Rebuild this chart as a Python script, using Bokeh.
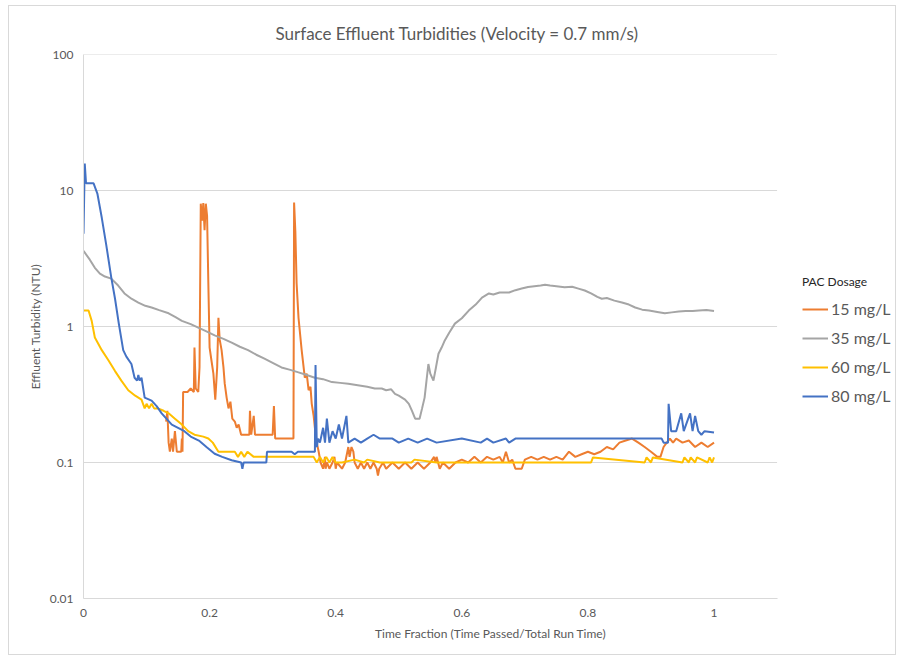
from bokeh.plotting import figure
from bokeh.models import (FixedTicker, CustomJSTickFormatter, Legend, LegendItem, Range1d)
from bokeh.embed import file_html
from bokeh.resources import INLINE

# ---------------- data ----------------
series_names = ["15 mg/L", "35 mg/L", "60 mg/L", "80 mg/L"]
series_colors = ["#ED7D31", "#A5A5A5", "#FFC000", "#4472C4"]

x_ticks = [0, 0.2, 0.4, 0.6, 0.8, 1.0]
y_ticks = [0.01, 0.1, 1, 10, 100]
x_axis_end = 1.1

# 15 mg/L
x15 = [0.131, 0.133, 0.135, 0.137, 0.140, 0.142, 0.145, 0.148, 0.152, 0.155, 0.156, 0.157,
       0.158, 0.165, 0.170, 0.175, 0.176, 0.178, 0.182, 0.184, 0.186, 0.188, 0.190, 0.192,
       0.194, 0.196, 0.198, 0.200, 0.203, 0.206, 0.209, 0.212, 0.214, 0.216, 0.219, 0.222,
       0.224, 0.227, 0.230, 0.233, 0.236, 0.240, 0.243, 0.246, 0.250, 0.263, 0.264, 0.266,
       0.270, 0.272, 0.285, 0.300, 0.302, 0.304, 0.320, 0.333, 0.334, 0.336, 0.338, 0.341,
       0.346, 0.351, 0.354, 0.357, 0.360, 0.362, 0.365, 0.367, 0.370, 0.373, 0.376, 0.380,
       0.383, 0.384, 0.386, 0.390, 0.395, 0.398, 0.400, 0.402, 0.410, 0.415, 0.420, 0.422,
       0.425, 0.428, 0.430, 0.435, 0.440, 0.445, 0.450, 0.455, 0.460, 0.465, 0.467, 0.469,
       0.475, 0.480, 0.490, 0.500, 0.510, 0.520, 0.530, 0.540, 0.550, 0.556, 0.558, 0.560,
       0.565, 0.570, 0.580, 0.590, 0.600, 0.610, 0.620, 0.630, 0.640, 0.650, 0.660, 0.665,
       0.670, 0.675, 0.680, 0.685, 0.695, 0.700, 0.710, 0.720, 0.730, 0.740, 0.750, 0.760,
       0.770, 0.780, 0.790, 0.800, 0.810, 0.820, 0.830, 0.840, 0.850, 0.860, 0.870, 0.880,
       0.890, 0.900, 0.905, 0.910, 0.915, 0.920, 0.925, 0.930, 0.935, 0.940, 0.950, 0.960,
       0.970, 0.980, 0.990, 1.000]
y15 = [0.20, 0.24, 0.14, 0.12, 0.15, 0.12, 0.17, 0.12, 0.12, 0.12, 0.15, 0.12,
       0.33, 0.33, 0.35, 0.33, 0.70, 0.35, 0.33, 0.50, 8.0, 6.0, 8.1, 5.1,
       8.0, 6.5, 2.07, 0.70, 0.56, 0.45, 0.29, 0.50, 1.16, 0.80, 0.67, 0.50,
       0.38, 0.30, 0.25, 0.28, 0.21, 0.20, 0.18, 0.19, 0.16, 0.16, 0.24, 0.16,
       0.22, 0.16, 0.16, 0.16, 0.26, 0.15, 0.15, 0.15, 8.15, 5.0, 2.07, 1.16,
       0.67, 0.42, 0.45, 0.34, 0.36, 0.27, 0.22, 0.18, 0.14, 0.12, 0.10, 0.09,
       0.11, 0.09, 0.10, 0.09, 0.10, 0.11, 0.09, 0.10, 0.09, 0.10, 0.13, 0.11,
       0.13, 0.12, 0.10, 0.09, 0.10, 0.09, 0.10, 0.09, 0.10, 0.09, 0.08, 0.09,
       0.10, 0.09, 0.10, 0.09, 0.10, 0.09, 0.10, 0.09, 0.10, 0.11, 0.10, 0.11,
       0.09, 0.10, 0.09, 0.10, 0.105, 0.10, 0.11, 0.10, 0.11, 0.105, 0.11, 0.10,
       0.12, 0.10, 0.105, 0.09, 0.09, 0.105, 0.11, 0.105, 0.11, 0.105, 0.11, 0.105,
       0.12, 0.11, 0.115, 0.12, 0.115, 0.12, 0.13, 0.125, 0.14, 0.145, 0.15, 0.14,
       0.13, 0.12, 0.115, 0.11, 0.11, 0.13, 0.14, 0.15, 0.14, 0.15, 0.14, 0.145,
       0.13, 0.14, 0.13, 0.14]

# 35 mg/L
x35 = [0.000, 0.010, 0.018, 0.026, 0.034, 0.044, 0.055, 0.065, 0.076, 0.087, 0.098, 0.108,
       0.120, 0.135, 0.146, 0.156, 0.170, 0.182, 0.195, 0.208, 0.222, 0.235, 0.248, 0.261,
       0.274, 0.287, 0.300, 0.314, 0.328, 0.341, 0.354, 0.367, 0.380, 0.394, 0.407, 0.420,
       0.435, 0.450, 0.462, 0.473, 0.480, 0.488, 0.494, 0.500, 0.505, 0.510, 0.516, 0.521,
       0.526, 0.533, 0.537, 0.541, 0.544, 0.547, 0.550, 0.555, 0.559, 0.563, 0.568, 0.573,
       0.580, 0.589, 0.600, 0.611, 0.622, 0.632, 0.643, 0.650, 0.660, 0.675, 0.685, 0.695,
       0.705, 0.715, 0.725, 0.732, 0.740, 0.750, 0.763, 0.775, 0.785, 0.795, 0.805, 0.815,
       0.822, 0.830, 0.842, 0.854, 0.865, 0.875, 0.886, 0.897, 0.910, 0.922, 0.933, 0.944,
       0.955, 0.966, 0.976, 0.988, 1.000]
y35 = [3.6, 3.1, 2.7, 2.45, 2.33, 2.25, 2.0, 1.75, 1.6, 1.5, 1.42, 1.38,
       1.32, 1.25, 1.17, 1.10, 1.04, 0.98, 0.92, 0.86, 0.81, 0.76, 0.71, 0.67,
       0.62, 0.58, 0.54, 0.50, 0.48, 0.46, 0.44, 0.42, 0.41, 0.39, 0.385, 0.38,
       0.37, 0.36, 0.35, 0.35, 0.34, 0.345, 0.32, 0.31, 0.30, 0.29, 0.27, 0.24,
       0.21, 0.21, 0.25, 0.30, 0.40, 0.53, 0.45, 0.40, 0.50, 0.63, 0.70, 0.79,
       0.90, 1.05, 1.15, 1.31, 1.45, 1.63, 1.75, 1.72, 1.78, 1.78, 1.85, 1.90,
       1.95, 1.98, 2.0, 2.03, 2.0, 1.98, 1.94, 1.96, 1.90, 1.84, 1.75, 1.65,
       1.60, 1.62, 1.55, 1.50, 1.45, 1.38, 1.33, 1.31, 1.28, 1.25, 1.27, 1.29,
       1.30, 1.30, 1.31, 1.32, 1.30]

# 60 mg/L
x60 = [0.000, 0.008, 0.013, 0.018, 0.029, 0.040, 0.050, 0.060, 0.071, 0.082, 0.092, 0.097,
       0.100, 0.104, 0.108, 0.112, 0.118, 0.127, 0.135, 0.145, 0.156, 0.166, 0.176, 0.190,
       0.198, 0.205, 0.214, 0.240, 0.245, 0.250, 0.255, 0.260, 0.270, 0.300, 0.330, 0.365,
       0.370, 0.375, 0.380, 0.385, 0.390, 0.395, 0.400, 0.410, 0.430, 0.445, 0.450, 0.470,
       0.500, 0.520, 0.525, 0.560, 0.600, 0.640, 0.700, 0.750, 0.805, 0.808, 0.890, 0.893,
       0.900, 0.903, 0.950, 0.953, 0.960, 0.963, 0.970, 0.973, 0.990, 0.993, 0.997, 1.000]
y60 = [1.31, 1.31, 1.10, 0.83, 0.67, 0.56, 0.47, 0.40, 0.34, 0.31, 0.29, 0.25,
       0.27, 0.25, 0.27, 0.25, 0.25, 0.24, 0.23, 0.21, 0.19, 0.17, 0.16, 0.155,
       0.15, 0.14, 0.12, 0.12, 0.11, 0.12, 0.11, 0.12, 0.11, 0.11, 0.11, 0.11,
       0.10, 0.11, 0.10, 0.11, 0.10, 0.11, 0.10, 0.10, 0.105, 0.10, 0.105, 0.10,
       0.10, 0.10, 0.105, 0.10, 0.10, 0.10, 0.10, 0.10, 0.10, 0.109, 0.10, 0.109,
       0.10, 0.109, 0.10, 0.109, 0.10, 0.109, 0.10, 0.109, 0.10, 0.109, 0.10, 0.109]

# 80 mg/L
x80 = [0.000, 0.002, 0.004, 0.016, 0.022, 0.029, 0.036, 0.044, 0.050, 0.056, 0.063, 0.068,
       0.076, 0.081, 0.085, 0.087, 0.089, 0.092, 0.097, 0.108, 0.116, 0.124, 0.140, 0.150,
       0.160, 0.170, 0.183, 0.195, 0.208, 0.220, 0.235, 0.250, 0.252, 0.254, 0.290, 0.291,
       0.330, 0.335, 0.340, 0.367, 0.368, 0.370, 0.372, 0.375, 0.380, 0.383, 0.386, 0.390,
       0.395, 0.400, 0.405, 0.410, 0.417, 0.420, 0.430, 0.440, 0.450, 0.460, 0.470, 0.490,
       0.500, 0.515, 0.530, 0.545, 0.560, 0.600, 0.630, 0.640, 0.650, 0.670, 0.675, 0.685,
       0.690, 0.760, 0.850, 0.917, 0.920, 0.927, 0.928, 0.932, 0.940, 0.948, 0.952, 0.962,
       0.966, 0.970, 0.975, 0.980, 0.985, 1.000]
y80 = [4.8, 15.8, 11.3, 11.3, 9.5, 6.3, 4.0, 2.3, 1.6, 1.05, 0.67, 0.60,
       0.53, 0.42, 0.40, 0.44, 0.40, 0.42, 0.30, 0.285, 0.26, 0.23, 0.19, 0.18,
       0.17, 0.155, 0.145, 0.13, 0.116, 0.11, 0.104, 0.10, 0.09, 0.10, 0.10, 0.12,
       0.12, 0.115, 0.12, 0.12, 0.52, 0.13, 0.15, 0.14, 0.18, 0.14, 0.21, 0.14,
       0.17, 0.15, 0.19, 0.15, 0.22, 0.14, 0.15, 0.14, 0.15, 0.16, 0.15, 0.15,
       0.14, 0.15, 0.14, 0.15, 0.14, 0.15, 0.14, 0.15, 0.14, 0.15, 0.14, 0.15,
       0.15, 0.15, 0.15, 0.15, 0.14, 0.14, 0.27, 0.17, 0.17, 0.23, 0.17, 0.23,
       0.17, 0.22, 0.17, 0.16, 0.17, 0.166]

xs_all = [x15, x35, x60, x80]
ys_all = [y15, y35, y60, y80]

# ---------------- figure ----------------
FONT = "Lato"
TXT = "#595959"
GRID = "#D9D9D9"

# frame spans to the right edge so the legend (drawn in the frame) is not clipped;
# the axis line and grid lines stop at x = 1.1 like the original
p = figure(width=888, height=650, y_axis_type="log",
           x_range=Range1d(0, 1.291), y_range=Range1d(0.01, 100),
           output_backend="svg", toolbar_location=None,
           min_border_left=74, min_border_right=0, min_border_bottom=58, min_border_top=48,
           background_fill_color="white", border_fill_color="white")
p.styles = {"border": "1px solid #D9D9D9", "margin-left": "8px", "margin-top": "5px"}
p.outline_line_color = None

p.title.text = "Surface Effluent Turbidities (Velocity = 0.7 mm/s)"
p.title.align = "left"
p.title.offset = 192
p.title.standoff = 21
p.title.text_font = FONT
p.title.text_font_size = "17px"
p.title.text_font_style = "normal"
p.title.text_color = TXT

# horizontal grid lines (only across the axis extent)
p.segment(x0=[0] * len(y_ticks), y0=y_ticks, x1=[x_axis_end] * len(y_ticks), y1=y_ticks,
          line_color=GRID, line_width=1)

renderers = []
for xs, ys, c in zip(xs_all, ys_all, series_colors):
    r = p.line(xs, ys, line_color=c, line_width=2)
    renderers.append(r)

# axes
xa = p.xaxis[0]
xa.ticker = FixedTicker(ticks=x_ticks)
xa.formatter = CustomJSTickFormatter(code="return Number(tick.toFixed(1)).toString();")
xa.axis_label = "Time Fraction (Time Passed/Total Run Time)"
xa.bounds = (0, x_axis_end)
ya = p.yaxis[0]
ya.ticker = FixedTicker(ticks=y_ticks, minor_ticks=[])
ya.formatter = CustomJSTickFormatter(code="return tick.toString();")
ya.axis_label = "Effluent Turbidity (NTU)"
for ax in (xa, ya):
    ax.axis_line_color = GRID
    ax.major_tick_line_color = None
    ax.minor_tick_line_color = None
    ax.major_label_text_font = FONT
    ax.major_label_text_font_size = "12px"
    ax.major_label_text_color = TXT
    ax.axis_label_text_font = FONT
    ax.axis_label_text_font_size = "12px"
    ax.axis_label_text_font_style = "normal"
    ax.axis_label_text_color = TXT
xa.major_label_standoff = 4
xa.axis_label_standoff = 6
ya.major_label_standoff = 4
ya.axis_label_standoff = 4

p.xgrid.grid_line_color = None
p.ygrid.grid_line_color = None

legend = Legend(items=[LegendItem(label=n, renderers=[r]) for n, r in zip(series_names, renderers)],
                location=(719, 188), title="PAC Dosage",
                title_text_font=FONT, title_text_font_size="12px", title_text_color="#262626",
                title_text_font_style="normal", title_standoff=5,
                label_text_font=FONT, label_text_font_size="16px", label_text_color=TXT,
                glyph_width=26, glyph_height=20, label_height=29, label_standoff=3,
                spacing=0, padding=0, margin=0, border_line_color=None,
                background_fill_alpha=0)
p.add_layout(legend)

open("out.html", "w").write(file_html(p, INLINE))
